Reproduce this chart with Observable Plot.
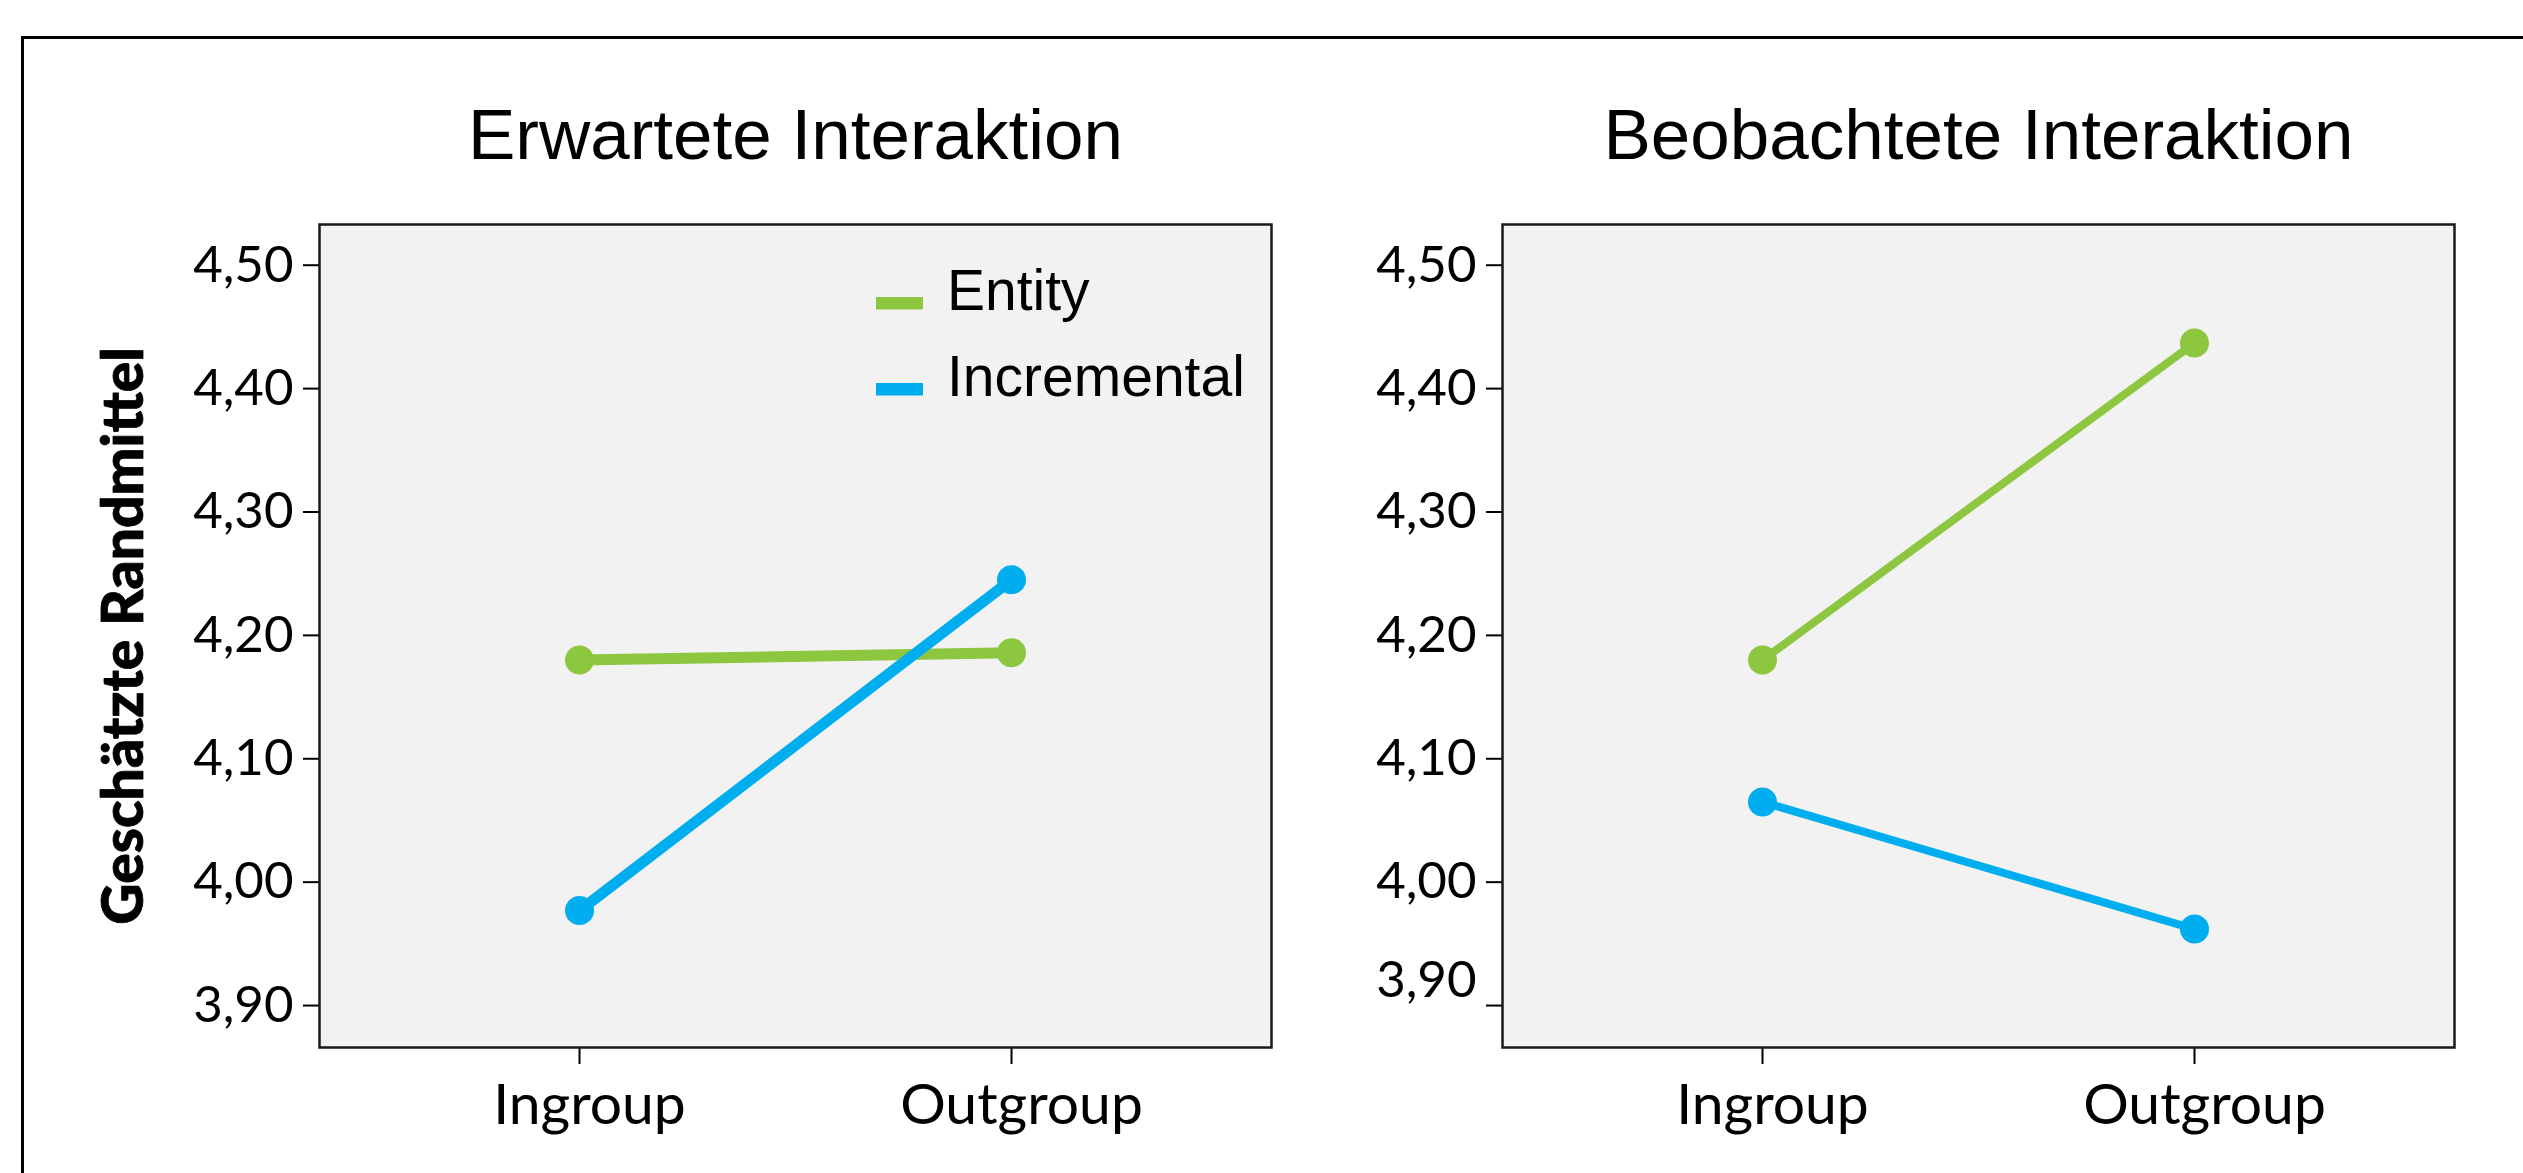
<!DOCTYPE html>
<html><head><meta charset="utf-8">
<script src="https://cdn.jsdelivr.net/npm/d3@7"></script>
<script src="https://cdn.jsdelivr.net/npm/@observablehq/plot@0.6"></script>
<style>
html,body{margin:0;padding:0;background:#fff;width:2523px;height:1173px;overflow:hidden;}
#left,#right{position:absolute;top:0;}
#left{left:0;} #right{left:1300px;}
#border{position:absolute;left:21px;top:36px;width:2700px;height:1400px;border-top:3px solid #000;border-left:3px solid #000;pointer-events:none;z-index:10;}
</style></head><body>
<div id="left"></div><div id="right"></div><div id="border"></div>
<script>
const groups = ["Ingroup", "Outgroup"];
const seriesNames = ["Entity", "Incremental"];
const seriesColors = ["#8dc63f", "#00aeef"];
const panelTitles = ["Erwartete Interaktion", "Beobachtete Interaktion"];
const yAxisLabel = "Geschätzte Randmittel";
const expectedEntity = [4.180, 4.186];
const expectedIncremental = [3.977, 4.245];
const observedEntity = [4.180, 4.437];
const observedIncremental = [4.065, 3.962];
const yTicks = [3.9, 4.0, 4.1, 4.2, 4.3, 4.4, 4.5];
const yDomain = [3.866, 4.533];

function rows(entity, incremental) {
  return [
    ...groups.map((g, i) => ({group: g, value: entity[i], series: seriesNames[0]})),
    ...groups.map((g, i) => ({group: g, value: incremental[i], series: seriesNames[1]}))
  ];
}
const fmt = d => d.toFixed(2).replace(".", ",");
const ARIAL = "'Liberation Sans', Arial, sans-serif";
const SANS = "Lato, 'Open Sans', sans-serif";

function legendMark(index, scales, values, dims) {
  const g = d3.create("svg:g");
  seriesNames.forEach((s, i) => {
    const c = (scales && scales.color) ? scales.color(s) : seriesColors[i];
    g.append("rect")
      .attr("x", dims.marginLeft + 557).attr("y", dims.marginTop + 73 + i * 86)
      .attr("width", 47).attr("height", 12.5).attr("fill", c);
    g.append("text")
      .attr("x", dims.marginLeft + 628).attr("y", dims.marginTop + 86 + i * 86)
      .attr("font-size", 57).attr("font-family", ARIAL).attr("fill", "#000")
      .attr("text-anchor", "start")
      .text(s);
  });
  return g.node();
}

function panel({data, title, width, marginLeft, marginRight, lineWidth, yLabel, legend, raised}) {
  const marks = [
    Plot.frame({fill: "#f2f2f2"}),
    Plot.axisY({ticks: yTicks, tickFormat: d => (raised && d === 3.9) ? "" : fmt(d), tickSize: 16, tickPadding: 10,
      strokeWidth: 2, stroke: "#000", fontSize: 51, fontFamily: SANS, fill: "#000", label: null}),
    Plot.axisX({tickSize: 17, tickFormat: () => "", strokeWidth: 2, stroke: "#000", label: null}),
    Plot.axisX({tickSize: 0, tickPadding: 36, dx: 10, fontSize: 57, fontFamily: SANS, fill: "#000", label: null}),
    Plot.text([title], {text: d => d, frameAnchor: "top", dy: -88, fontSize: 71, fontFamily: ARIAL, lineAnchor: "middle", fill: "#000"}),
    Plot.line(data, {x: "group", y: "value", z: "series", stroke: "series", strokeWidth: lineWidth}),
    Plot.dot(data, {x: "group", y: "value", fill: "series", r: 14.5}),
    Plot.frame({stroke: "#1a1a1a", strokeWidth: 2.5})
  ];
  if (raised) {
    marks.push(Plot.axisY({ticks: [3.9], tickFormat: fmt, tickSize: 0, tickPadding: 26, dy: -25,
      fontSize: 51, fontFamily: SANS, fill: "#000", label: null}));
  }
  if (yLabel) {
    marks.push(Plot.text([yAxisLabel], {text: d => d, frameAnchor: "left", textAnchor: "middle", rotate: -90, dx: -195,
      fontSize: 57, fontWeight: 900, fontFamily: SANS, lineAnchor: "middle", fill: "#000", stroke: "#000", strokeWidth: 0.8}));
  }
  if (legend) marks.push(legendMark);
  return Plot.plot({
    width, height: 1173,
    marginLeft, marginRight, marginTop: 224, marginBottom: 126,
    style: {background: "transparent", overflow: "visible", color: "#000", fontFamily: SANS},
    x: {type: "point", domain: groups, padding: 0.6, axis: null, label: null},
    y: {domain: yDomain, axis: null, label: null},
    color: {domain: seriesNames, range: seriesColors},
    marks
  });
}

document.getElementById("left").appendChild(panel({
  data: rows(expectedEntity, expectedIncremental), title: panelTitles[0],
  width: 1300, marginLeft: 319, marginRight: 29, lineWidth: 11, yLabel: true, legend: true, raised: false
}));
document.getElementById("right").appendChild(panel({
  data: rows(observedEntity, observedIncremental), title: panelTitles[1],
  width: 1223, marginLeft: 202, marginRight: 69, lineWidth: 8, yLabel: false, legend: false, raised: true
}));
</script>
</body></html>
